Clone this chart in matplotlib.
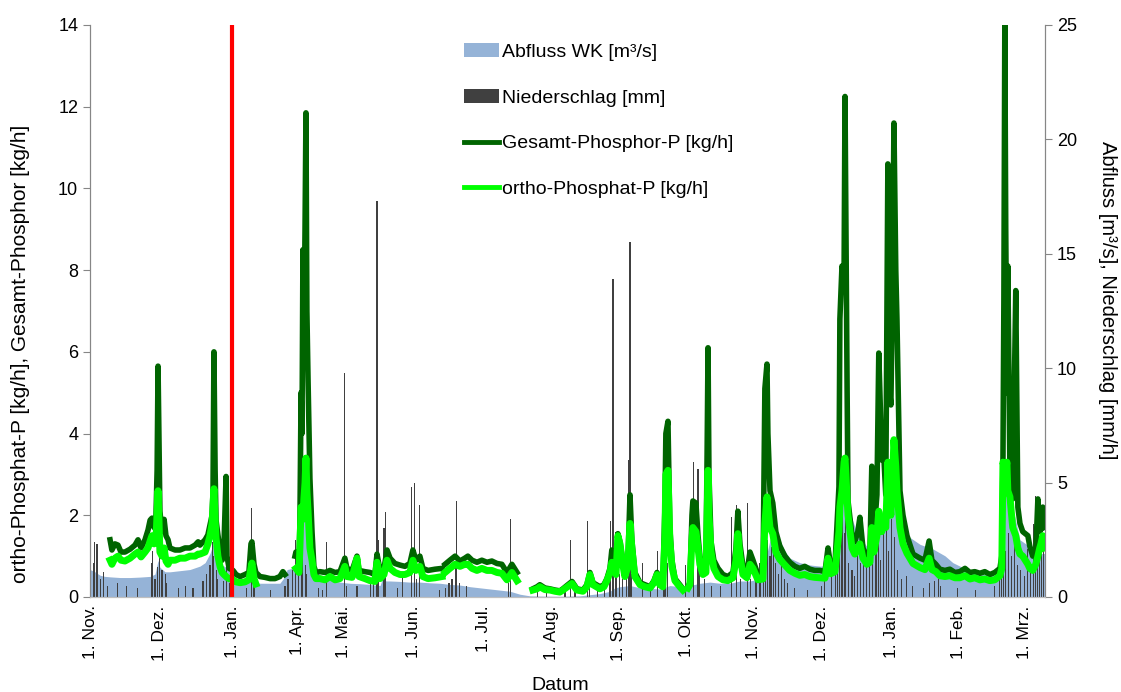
import numpy as np
import matplotlib
matplotlib.use("Agg")
import matplotlib.pyplot as plt
from matplotlib.patches import Patch
from matplotlib.lines import Line2D

plt.rcParams['font.family'] = ['Liberation Sans', 'DejaVu Sans']

nan = np.nan

# x-Achse: Tage ab 1. Nov. (Jan.-Apr. zusammengeschoben)
tick_tage = [0, 30, 61, 89, 109, 139, 169, 198, 227, 256, 285, 314, 344, 373, 401]
tick_labels = ['1. Nov.', '1. Dez.', '1. Jan.', '1. Apr.', '1. Mai.', '1. Jun.', '1. Jul.',
               '1. Aug.', '1. Sep.', '1. Okt.', '1. Nov.', '1. Dez.', '1. Jan.', '1. Feb.', '1. Mrz.']
tag_bruch = 61

# Phosphor-Frachten [kg/h]
tag = [8.6, 9.4, 10.7, 12.0, 13.3, 15.0, 17.2, 19.3, 20.6, 21.9, 23.6, 24.9, 25.8, 26.6, 27.5,
       28.3, 28.8, 29.2, 29.6, 30.0, 30.9, 31.8, 32.6, 33.5, 34.3, 36.5, 38.6, 40.8, 42.9, 45.1,
       46.4, 47.2, 49.4, 50.6, 51.5, 52.4, 52.8, 53.2, 53.7, 54.1, 54.9, 55.8, 56.7, 57.5, 58.4,
       58.8, 59.7, 61.4, 62.7, 64.4, 66.5, 68.2, 69.1, 69.5, 70.4, 71.2, 73.0, 75.1, 77.3, 79.4,
       81.5, 82.8, 83.7, 85.4,
       88.0, 88.4, 89.7, 90.1, 90.6, 91.0, 91.4, 91.8, 92.3, 92.7, 93.1, 93.6, 94.4, 95.3, 96.1,
       97.0, 98.7, 100.9, 103.0, 105.2, 107.3, 109.4, 110.3, 112.5, 114.6, 115.5, 118.0, 120.2,
       122.3, 123.2, 124.5, 126.2, 127.5, 128.8, 130.9, 133.1, 135.2, 137.3, 138.6, 139.9, 141.6,
       142.9, 145.1, 148.1, 151.1, 151.7,
       152.4, 154.5, 156.7, 158.8, 160.9, 162.2, 164.0, 166.1, 168.2, 170.4, 172.5, 174.7, 176.8,
       179.0, 181.1, 183.3, 186.7,
       190.1, 191.9, 193.1, 195.3, 197.4, 199.6, 201.7, 203.0, 204.7, 206.9, 209.0, 211.6, 213.3,
       214.6, 215.9, 218.9, 220.6, 221.9, 223.2, 224.0, 224.9, 225.8, 226.6, 227.5, 228.4, 229.6,
       230.9, 231.8, 232.6, 233.9, 236.1, 238.2, 240.4, 242.1, 243.4, 244.6, 245.9, 246.8, 247.2,
       248.1, 248.9, 249.8, 251.1, 253.2, 254.5, 255.4,
       256.7, 257.5, 258.4, 258.8, 260.1, 261.0, 261.8, 263.1, 264.4, 264.9, 265.3, 265.7, 266.6,
       267.8, 269.6, 271.7, 273.8, 276.0, 277.3, 278.1, 279.0, 280.3, 282.0, 283.3, 284.6, 286.7,
       288.9, 289.7, 290.6, 291.0, 291.9, 293.1, 294.4, 296.1, 298.3, 300.4, 302.6, 304.7, 306.8,
       309.0, 311.1, 313.3, 315.5, 316.8, 318.0, 319.8, 321.5, 321.9, 322.8, 323.7, 324.1, 324.5,
       325.0, 325.4, 327.1, 328.3, 329.6, 330.5, 331.8, 333.5, 334.8, 335.6, 336.5, 337.8, 338.6,
       339.9, 340.8, 341.6, 342.5, 343.3, 343.8, 344.6, 345.1, 345.9, 346.4, 347.7, 349.0, 350.7,
       353.3, 356.3, 358.4, 360.2, 361.4, 363.1, 364.8, 367.0, 369.1, 371.3, 373.4, 375.6, 377.7,
       379.8, 382.0, 384.1, 386.3, 388.4, 390.6, 391.4, 391.9, 392.3, 392.7, 393.1, 393.6, 394.0,
       394.9, 396.1, 397.4, 398.3, 399.2, 400.4, 402.6, 403.4, 404.7, 406.0, 406.9, 407.7, 408.2,
       409.0, 409.9]

gesamt_p = [1.4, 1.15, 1.3, 1.27, 1.1, 1.1, 1.17, 1.27, 1.4, 1.2, 1.4, 1.64, 1.88, 1.93, 1.7,
            1.95, 3.1, 5.65, 3.8, 2.1, 1.6, 1.9, 1.5, 1.4, 1.2, 1.15, 1.15, 1.2, 1.2, 1.27,
            1.35, 1.27, 1.4, 1.52, 1.76, 2.0, 2.6, 6.0, 3.1, 1.88, 1.52, 1.15, 0.9, 1.27, 2.95,
            1.0, 0.7, 0.65, 0.55, 0.5, 0.55, 0.6, 1.3, 1.35, 0.8, 0.6, 0.5, 0.48, 0.45, 0.45,
            0.5, 0.62, 0.55, nan,
            1.0, 1.1, 0.9, 1.8, 5.0, 4.0, 8.5, 6.0, 9.0, 11.85, 7.0, 5.3, 2.9, 1.6, 0.75,
            0.6, 0.62, 0.6, 0.65, 0.6, 0.62, 0.95, 0.7, 0.65, 1.0, 0.65, 0.62, 0.6,
            0.55, 1.05, 0.65, 0.7, 1.15, 0.95, 0.82, 0.78, 0.75, 0.82, 1.15, 0.9, 1.0,
            0.7, 0.65, 0.68, 0.7, nan,
            0.8, 0.9, 1.0, 0.88, 0.95, 1.0, 0.9, 0.85, 0.9, 0.85, 0.88, 0.82, 0.8,
            0.6, 0.8, 0.6, nan,
            0.2, 0.25, 0.3, 0.22, 0.2, 0.17, 0.15, 0.2, 0.28, 0.38, 0.2, 0.17, 0.3,
            0.6, 0.35, 0.25, 0.3, 0.45, 0.7, 1.15, 0.85, 0.65, 1.55, 1.35, 1.0, 0.55,
            0.85, 2.5, 1.4, 0.6, 0.35, 0.3, 0.25, 0.4, 0.6, 0.35, 0.3, 2.2, 4.0,
            4.3, 1.7, 0.9, 0.45, 0.3, 0.2, nan,
            0.25, 0.35, 2.0, 2.35, 2.3, 1.5, 1.0, 0.7, 0.8, 3.5, 6.1, 3.0, 1.35,
            0.9, 0.7, 0.55, 0.5, 0.6, 1.2, 2.1, 1.3, 0.75, 0.6, 1.1, 0.9, 0.55,
            0.55, 5.1, 5.7, 4.0, 2.6, 2.3, 1.6, 1.25, 1.0, 0.85, 0.75, 0.7, 0.75,
            0.68, 0.65, 0.65, 0.62, 1.2, 0.75, 0.8, 2.7, 6.8, 8.1, 7.9, 12.25, 9.0,
            5.1, 2.35, 1.5, 1.35, 1.6, 1.95, 1.2, 1.0, 1.1, 3.2, 1.5, 2.5, 5.97,
            3.35, 3.4, 2.5, 10.6, 5.0, 4.7, 8.0, 11.6, 8.0, 6.8, 2.6, 2.0, 1.5,
            1.05, 0.95, 0.9, 1.37, 0.9, 0.8, 0.68, 0.65, 0.68, 0.6, 0.62, 0.7, 0.6,
            0.62, 0.58, 0.62, 0.55, 0.6, 0.7, 1.0, 3.3, 7.25, 14.0, 9.0, 5.0, 8.1,
            3.0, 2.4, 7.5, 2.2, 1.8, 1.6, 1.5, 1.25, 1.0, 1.1, 2.4, 1.6, 1.65,
            2.2, 1.7]

ortho_p = [0.9, 0.8, 0.95, 1.0, 0.9, 0.88, 0.95, 1.05, 1.1, 0.98, 1.1, 1.2, 1.37, 1.5, 1.3,
           1.4, 2.1, 2.6, 1.9, 1.1, 1.0, 1.2, 0.88, 0.8, 0.9, 0.9, 0.95, 0.95, 1.0, 1.0,
           1.05, 1.05, 1.1, 1.3, 1.5, 1.8, 2.25, 2.65, 1.9, 1.45, 1.0, 0.75, 0.6, 0.55, 0.5,
           0.48, 0.45, 0.42, 0.37, 0.35, 0.37, 0.42, 0.7, 0.83, 0.45, 0.32, nan, nan, nan, nan,
           nan, nan, nan, nan,
           nan, 0.7, 0.6, 1.2, 2.2, 2.0, 1.9, 2.4, 2.8, 3.4, 2.6, 2.1, 1.2, 0.9, 0.55,
           0.45, 0.45, 0.42, 0.5, 0.42, 0.45, 0.75, 0.5, 0.48, 0.95, 0.5, 0.45, 0.4,
           0.38, 0.85, 0.45, 0.55, 0.9, 0.7, 0.6, 0.55, 0.55, 0.6, 0.9, 0.65, 0.75,
           0.5, 0.45, 0.47, 0.5, nan,
           0.6, 0.7, 0.8, 0.75, 0.8, 0.8, 0.7, 0.65, 0.7, 0.65, 0.65, 0.6, 0.58,
           0.42, 0.6, 0.4, nan,
           0.17, 0.2, 0.25, 0.18, 0.17, 0.14, 0.12, 0.17, 0.24, 0.33, 0.17, 0.14, 0.25,
           0.55, 0.3, 0.2, 0.25, 0.4, 0.6, 0.85, 0.7, 0.55, 1.5, 1.3, 0.9, 0.5,
           0.75, 1.8, 1.2, 0.5, 0.3, 0.25, 0.22, 0.35, 0.55, 0.3, 0.25, 1.5, 3.0,
           3.1, 1.4, 0.75, 0.4, 0.25, 0.17, nan,
           0.22, 0.3, 1.4, 1.7, 1.6, 1.2, 0.8, 0.55, 0.6, 2.0, 3.1, 2.0, 1.1,
           0.7, 0.5, 0.42, 0.4, 0.47, 0.9, 1.55, 1.0, 0.55, 0.47, 0.8, 0.7, 0.42,
           0.44, 1.8, 2.45, 2.2, 1.7, 1.55, 1.1, 0.92, 0.78, 0.65, 0.58, 0.53, 0.55,
           0.5, 0.48, 0.47, 0.46, 0.95, 0.57, 0.62, 1.6, 2.2, 2.6, 3.3, 3.4, 3.0,
           2.4, 2.0, 1.2, 1.05, 1.2, 1.3, 0.95, 0.8, 0.85, 1.7, 1.1, 1.5, 2.1,
           1.6, 1.8, 1.7, 3.3, 2.3, 2.0, 3.0, 3.85, 3.2, 2.6, 1.7, 1.3, 1.07,
           0.82, 0.72, 0.67, 0.95, 0.67, 0.62, 0.52, 0.5, 0.52, 0.47, 0.47, 0.52, 0.44,
           0.47, 0.42, 0.44, 0.4, 0.42, 0.52, 0.7, 3.3, 3.2, 2.9, 3.1, 3.3, 2.6,
           2.45, 1.7, 1.5, 1.2, 1.05, 1.0, 0.8, 0.7, 0.65, 0.8, 1.0, 1.2, 1.3,
           1.5, 1.2]

# Abfluss WK [m³/s]
tag_abfluss = [0, 2.1, 4.3, 6.4, 8.6, 12.9, 17.2, 21.5, 25.8, 27.9, 29.2, 30.0, 32.2, 34.3, 38.6,
               42.9, 47.2, 49.4, 51.5, 52.8, 53.2, 54.1, 54.9, 56.7, 58.4, 60.1, 62.2, 64.4, 68.7,
               73.0, 77.3, 81.5, 83.7, 84.6, 86.7, 88.4, 90.1, 91.4, 92.7, 93.6, 94.4, 95.7, 97.9,
               100.9, 103.0, 107.3, 111.6, 115.9, 120.2, 124.5, 125.8, 127.0, 128.8, 133.1, 137.3,
               141.6, 145.9, 150.2, 154.5, 158.8, 163.1, 167.4, 171.7, 176.0, 180.3, 184.6, 188.8,
               193.1, 201.7, 210.3, 214.6, 218.9, 223.2, 225.3, 227.5, 231.8, 236.1, 244.6, 248.9,
               253.2, 257.5, 261.8, 266.1, 270.4, 274.7, 279.0, 283.3, 287.6, 289.7, 291.9, 294.0,
               296.1, 298.3, 300.4, 304.7, 309.0, 313.3, 317.6, 321.0, 323.2, 324.5, 326.2, 329.2,
               331.4, 333.5, 335.6, 337.8, 339.9, 342.1, 344.6, 346.4, 349.0, 352.0, 356.3, 361.8,
               367.0, 370.4, 376.4, 382.0, 390.6, 391.9, 393.1, 394.9, 397.0, 399.2, 403.4, 405.6,
               409.9]
abfluss = [1.2, 1.1, 0.95, 0.9, 0.88, 0.85, 0.85, 0.87, 0.9, 1.0, 1.6, 1.3, 1.1, 1.1, 1.15,
           1.2, 1.35, 1.5, 1.9, 2.3, 2.6, 2.2, 1.8, 1.4, 1.3, 1.1, 0.75, 0.7, 0.65,
           0.6, 0.6, 0.6, 0.9, 1.2, 1.25, 1.1, 2.0, 3.0, 4.5, 3.2, 2.4, 1.3, 1.0,
           0.9, 0.75, 0.65, 0.6, 0.58, 0.55, 0.5, 0.9, 0.7, 0.7, 0.68, 0.65,
           0.65, 0.62, 0.6, 0.55, 0.52, 0.45, 0.4, 0.35, 0.3, 0.25, 0.12, 0.05,
           0.04, 0.03, 0.05, 0.1, 0.15, 0.25, 0.4, 0.45, 0.5, 0.4, 0.35, 0.5,
           0.45, 0.5, 0.6, 0.65, 0.6, 0.6, 0.7, 0.7, 0.8, 1.5, 2.5, 2.9,
           2.5, 2.0, 1.7, 1.5, 1.4, 1.35, 1.35, 1.5, 6.1, 5.5, 3.7, 2.8,
           2.5, 2.2, 2.9, 2.8, 3.5, 3.9, 4.5, 4.8, 3.1, 2.6, 2.3, 2.1,
           1.8, 1.5, 1.2, 1.0, 0.95, 4.5, 5.7, 4.0, 3.5, 2.5, 2.2, 1.9,
           1.9]

# Niederschlag [mm/h]
tag_nieder = [0.4, 1.3, 2.1, 3.0, 4.3, 5.6, 7.7, 11.6, 15.5, 20.2, 26.2, 27.0, 27.9, 28.8, 30.0,
              30.9, 32.2, 33.0, 37.8, 40.8, 44.2, 48.5, 50.2, 51.5, 52.4, 53.2, 54.1, 54.9, 57.5,
              58.4, 59.7, 67.0, 69.5, 70.4, 77.3, 83.7, 85.0, 87.1, 88.4, 89.7, 90.6, 91.4, 92.3,
              93.1, 97.9, 99.6, 101.7, 109.4, 110.3, 114.6, 120.6, 121.5, 123.2, 124.0, 126.2,
              127.0, 131.8, 134.3, 138.2, 139.1, 140.3, 141.6, 150.2, 152.8, 154.1, 155.4, 157.1,
              157.5, 158.8, 161.8, 179.8, 180.7, 191.9, 196.1, 203.9, 206.4, 208.2, 213.7, 214.6,
              218.0, 221.0, 222.8, 223.6, 224.5, 225.8, 227.1, 228.4, 230.1, 231.0, 231.8, 232.6,
              237.3, 240.4, 243.8, 246.4, 247.2, 248.1, 255.8, 259.2, 261.0, 261.8, 263.6, 266.6,
              270.8, 275.5, 277.7, 279.4, 282.4, 283.7, 285.9, 287.6, 289.3, 290.1, 291.0, 291.9,
              292.7, 293.6, 294.4, 295.7, 297.0, 298.3, 299.6, 302.6, 308.2, 314.2, 315.5, 318.5,
              320.2, 321.0, 321.9, 322.8, 323.7, 324.5, 325.4, 327.1, 328.3, 329.6, 330.9, 332.2,
              333.5, 334.8, 336.1, 337.4, 338.6, 339.5, 340.8, 342.1, 342.9, 344.2, 345.5, 346.8,
              348.5, 350.3, 352.9, 358.0, 360.2, 362.7, 364.4, 365.2, 372.5, 380.3, 388.4, 390.6,
              391.4, 392.3, 393.1, 394.4, 395.7, 397.0, 398.3, 399.6, 401.3, 402.6, 403.9, 405.1,
              406.0, 406.9, 407.7, 408.6, 409.5]
niederschlag = [2.6, 1.5, 2.4, 2.3, 0.8, 1.1, 0.5, 0.6, 0.5, 0.4, 1.5, 2.0, 0.8, 1.3, 2.1,
                1.2, 1.0, 0.6, 0.4, 0.5, 0.4, 0.7, 1.0, 1.4, 2.4, 1.8, 1.2, 0.8, 0.7,
                1.3, 0.6, 0.4, 3.9, 0.8, 0.3, 0.5, 0.8, 1.2, 2.5, 1.5, 2.0, 3.0, 1.4,
                1.0, 0.4, 0.3, 2.4, 9.8, 0.5, 0.5, 0.6, 1.0, 17.3, 2.5, 3.0,
                3.7, 0.4, 1.0, 4.8, 5.0, 0.8, 4.0, 0.3, 0.4, 0.6, 0.8, 1.5,
                4.2, 0.6, 0.5, 0.6, 3.4, 0.3, 0.3, 0.4, 2.5, 0.5, 3.3, 0.8,
                0.4, 0.6, 1.2, 3.3, 13.9, 2.85, 1.0, 0.8, 2.0, 6.0, 15.5, 1.0,
                1.5, 0.4, 2.0, 1.0, 2.0, 1.5, 1.4, 5.9, 5.6, 1.0, 0.8, 0.5,
                0.5, 3.5, 4.0, 0.8, 4.1, 0.8, 1.2, 1.5, 2.0, 3.0, 2.5, 1.8,
                2.2, 3.3, 1.5, 1.0, 1.8, 0.8, 0.6, 0.4, 0.3, 0.5, 0.7, 0.9,
                1.6, 2.5, 3.5, 4.2, 2.8, 3.6, 1.5, 1.2, 0.9, 2.0, 1.5, 2.5,
                1.3, 2.2, 1.5, 3.0, 2.3, 1.6, 2.8, 3.6, 2.0, 3.4, 2.6, 1.2,
                0.8, 0.9, 0.5, 0.4, 0.6, 0.7, 0.8, 0.5, 0.4, 0.3, 0.5, 1.0,
                2.5, 3.5, 2.0, 2.8, 1.8, 3.6, 1.4, 1.2, 0.9, 2.1, 1.5, 3.2,
                4.4, 2.6, 1.8, 3.9, 2.2]

c_abfluss = '#95B3D7'
c_nieder = '#404040'
c_gesamt = '#006400'
c_ortho = '#00FF00'
c_achse = '#868686'

fig = plt.figure(figsize=(11.21, 6.92), dpi=100)
ax = fig.add_axes([0.0803, 0.1373, 0.852, 0.8266])
ax2 = ax.twinx()

ax2.fill_between(tag_abfluss, abfluss, 0, color=c_abfluss, lw=0)
ax2.bar(tag_nieder, niederschlag, width=0.45, color=c_nieder, lw=0)

ax.plot(tag, gesamt_p, color=c_gesamt, lw=4.0)
ax.plot(tag, ortho_p, color=c_ortho, lw=5.0)
ax.axvline(tag_bruch, color='#FF0000', lw=3)

ax.set_zorder(ax2.get_zorder() + 1)
ax.patch.set_visible(False)

ax.set_xlim(0, 410)
ax.set_ylim(0, 14)
ax2.set_ylim(0, 25)
ax.set_yticks(range(0, 15, 2))
ax2.set_yticks(range(0, 26, 5))
ax.set_xticks(tick_tage)
ax.set_xticklabels(tick_labels, rotation=90, fontsize=12.5)

for a in (ax, ax2):
    a.spines['top'].set_visible(False)
    a.spines['left'].set_color(c_achse)
    a.spines['right'].set_color(c_achse)
    a.spines['bottom'].set_color('#BFBFBF')
    a.tick_params(axis='y', direction='out', length=5, color=c_achse, labelsize=13)
ax.tick_params(axis='x', length=0, pad=6)

ax.set_xlabel('Datum', fontsize=14)
ax.xaxis.set_label_coords(0.492, -0.14)
ax.set_ylabel('ortho-Phosphat-P [kg/h], Gesamt-Phosphor [kg/h]', fontsize=15)
ax.yaxis.set_label_coords(-0.063, 0.425)
ax2.set_ylabel('Abfluss [m³/s], Niederschlag [mm/h]', fontsize=14.5, rotation=270,
               va='bottom')
ax2.yaxis.set_label_coords(1.055, 0.519)

handles = [Patch(facecolor=c_abfluss), Patch(facecolor=c_nieder),
           Line2D([], [], color=c_gesamt, lw=3.5), Line2D([], [], color=c_ortho, lw=3.5)]
labels = ['Abfluss WK [m³/s]', 'Niederschlag [mm]', 'Gesamt-Phosphor-P [kg/h]',
          'ortho-Phosphat-P [kg/h]']
fig.legend(handles, labels, loc='upper left', bbox_to_anchor=(0.414, 0.9375), frameon=False,
           fontsize=14, labelspacing=1.45, handlelength=1.8, handleheight=0.7,
           handletextpad=0.15, borderpad=0, borderaxespad=0)

fig.savefig('out.png', dpi=100)
